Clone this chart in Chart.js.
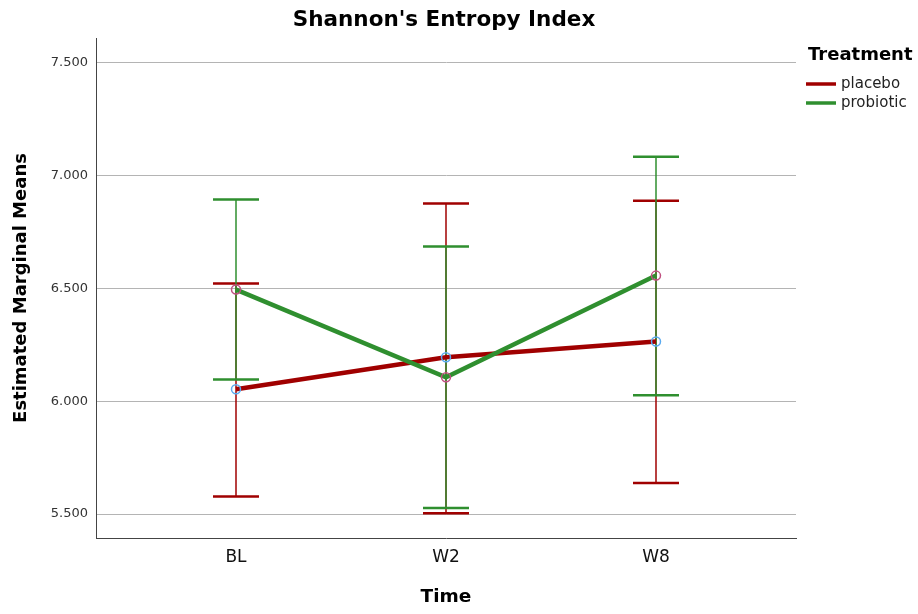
<!DOCTYPE html>
<html>
<head>
<meta charset="utf-8">
<script src="https://cdn.jsdelivr.net/npm/chart.js@4.4.1/dist/chart.umd.min.js"></script>
<style>
  html, body { margin: 0; padding: 0; background: #fff; }
  #wrap { width: 918px; height: 614px; }
</style>
</head>
<body>
<div id="wrap"><canvas id="emmChart" width="918" height="614"></canvas></div>
<script>
// Time points and estimated marginal means
const timeLabels = ["BL", "W2", "W8"];
const placeboMeans = [6.053, 6.195, 6.265];
const placeboLower = [5.578, 5.504, 5.638];
const placeboUpper = [6.522, 6.876, 6.889];
const probioticMeans = [6.495, 6.106, 6.557];
const probioticLower = [6.097, 5.527, 6.027];
const probioticUpper = [6.894, 6.686, 7.084];
const yTicks = [5.5, 6.0, 6.5, 7.0, 7.5];

const RED = "#a00000";
const GREEN = "#2f8f2f";
const FONT = "'DejaVu Sans', sans-serif";

const toPoints = arr => arr.map((v, i) => ({ x: i, y: v }));

// draws the whiskers + caps for each group
const errorBars = {
  id: "errorBars",
  beforeDatasetsDraw(chart) {
    const { ctx, chartArea, scales: { x, y } } = chart;
    const groups = [
      { lo: placeboLower, hi: placeboUpper, color: RED },
      { lo: probioticLower, hi: probioticUpper, color: GREEN }
    ];
    const capHalf = 23;
    ctx.save();
    ctx.beginPath();
    ctx.rect(chartArea.left, chartArea.top, chartArea.width, chartArea.height);
    ctx.clip();
    groups.forEach(g => {
      ctx.strokeStyle = g.color;
      g.lo.forEach((lo, i) => {
        const px = x.getPixelForValue(i);
        const yLo = y.getPixelForValue(lo);
        const yHi = y.getPixelForValue(g.hi[i]);
        ctx.lineWidth = 1.5;
        ctx.beginPath();
        ctx.moveTo(px, yLo);
        ctx.lineTo(px, yHi);
        ctx.stroke();
        ctx.lineWidth = 2.5;
        ctx.beginPath();
        ctx.moveTo(px - capHalf, yLo);
        ctx.lineTo(px + capHalf, yLo);
        ctx.moveTo(px - capHalf, yHi);
        ctx.lineTo(px + capHalf, yHi);
        ctx.stroke();
      });
    });
    ctx.restore();
  }
};

// title on top and the legend block on the right
const decorations = {
  id: "decorations",
  afterDraw(chart) {
    const { ctx, chartArea } = chart;
    ctx.save();
    ctx.fillStyle = "#000";
    ctx.textBaseline = "middle";
    ctx.textAlign = "center";
    ctx.font = "bold 21.5px " + FONT;
    ctx.fillText("Shannon's Entropy Index", (chartArea.left + chartArea.right) / 2 - 2, 20);

    ctx.textAlign = "left";
    ctx.font = "bold 18px " + FONT;
    ctx.fillText("Treatment", 808, 55);
    const items = [
      { text: "placebo", color: RED, y: 84 },
      { text: "probiotic", color: GREEN, y: 103 }
    ];
    ctx.font = "15px " + FONT;
    items.forEach(it => {
      ctx.strokeStyle = it.color;
      ctx.lineWidth = 3.5;
      ctx.beginPath();
      ctx.moveTo(806, it.y);
      ctx.lineTo(836, it.y);
      ctx.stroke();
      ctx.fillStyle = "#222";
      ctx.fillText(it.text, 841, it.y);
    });
    ctx.restore();
  }
};

const ctx = document.getElementById("emmChart").getContext("2d");
new Chart(ctx, {
  type: "line",
  data: {
    datasets: [
      {
        label: "placebo",
        data: toPoints(placeboMeans),
        borderColor: RED,
        borderWidth: 4.5,
        pointRadius: 4.5,
        pointBorderWidth: 1.5,
        pointBorderColor: "#5aaaf0",
        pointBackgroundColor: "rgba(0,0,0,0)",
        order: 2
      },
      {
        label: "probiotic",
        data: toPoints(probioticMeans),
        borderColor: GREEN,
        borderWidth: 4.5,
        pointRadius: 4.5,
        pointBorderWidth: 1.5,
        pointBorderColor: "#c05080",
        pointBackgroundColor: "rgba(0,0,0,0)",
        order: 1
      }
    ]
  },
  options: {
    responsive: false,
    animation: false,
    layout: { padding: { top: 38, right: 122, left: 0, bottom: 0 } },
    plugins: {
      legend: { display: false },
      tooltip: { enabled: false },
      title: { display: false }
    },
    scales: {
      x: {
        type: "linear",
        min: -2 / 3,
        max: 2 + 2 / 3,
        afterBuildTicks: s => { s.ticks = timeLabels.map((_, i) => ({ value: i })); },
        afterFit: s => { s.height = 76; },
        grid: { display: false, drawTicks: false },
        border: { display: true, color: "#444", width: 1 },
        ticks: {
          callback: v => timeLabels[v],
          color: "#111",
          padding: 9,
          font: { family: FONT, size: 17 }
        },
        title: {
          display: true,
          text: "Time",
          color: "#000",
          padding: { bottom: 6 },
          font: { family: FONT, size: 18.5, weight: "bold" }
        }
      },
      y: {
        min: 5.394,
        max: 7.61,
        afterBuildTicks: s => { s.ticks = yTicks.map(v => ({ value: v })); },
        afterFit: s => { s.width = 96; },
        grid: { color: "#b4b4b4", lineWidth: 1, drawTicks: false },
        border: { display: true, color: "#444", width: 1 },
        ticks: {
          callback: v => v.toFixed(3),
          color: "#333",
          padding: 8,
          font: { family: FONT, size: 13 }
        },
        title: {
          display: true,
          text: "Estimated Marginal Means",
          color: "#000",
          padding: { top: 11 },
          font: { family: FONT, size: 18, weight: "bold" }
        }
      }
    }
  },
  plugins: [errorBars, decorations]
});
</script>
</body>
</html>
